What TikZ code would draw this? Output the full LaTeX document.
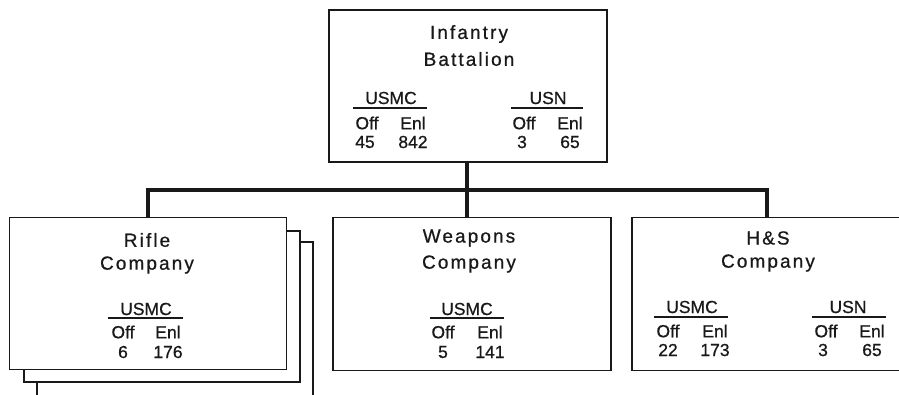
\documentclass[tikz,border=0pt]{standalone}
\usepackage{fontspec}
\setmainfont[FakeBold=0.7]{Liberation Sans}
\newfontfamily\titlefont[LetterSpace=11,FakeBold=0.7]{Liberation Sans}
\begin{document}
\begin{tikzpicture}[x=1pt,y=-1pt,
  box/.style={draw=black!90, line width=1.6pt, fill=white, rectangle, inner sep=0pt, outer sep=0pt},
  bar/.style={line width=4pt, black!90},
  ttl/.style={font=\titlefont\fontsize{19}{19}\selectfont, inner sep=0pt, text=black!90},
  lbl/.style={font=\fontsize{17.5}{17.5}\selectfont, inner sep=0pt, text=black!90},
  rule/.style={line width=1.2pt, black!90}]
\useasboundingbox (0,0) rectangle (899,394);
% boxes
\node[box, minimum width=276pt, minimum height=160pt] (rifle3) at (175,322) {};
\node[box, minimum width=276pt, minimum height=151pt] (rifle2) at (162,306.5) {};
\node[box, minimum width=277pt, minimum height=152pt] (rifle) at (148,293.5) {};
\node[box, minimum width=278pt, minimum height=152pt] (top) at (468,86) {};
\node[box, minimum width=278pt, minimum height=153pt] (weap) at (472,294) {};
\node[box, minimum width=269pt, minimum height=153pt] (hs) at (766.5,294) {};
% connectors
\coordinate (j) at (467,190);
\draw[bar] (top.south -| j) -- (j);
\draw[bar] (rifle.north) -- (rifle.north |- j) -- (hs.north |- j) -- (hs.north);
\draw[bar] (j) -- (j |- weap.north);
% top box text
\node[ttl] (t1) at (469,34) {Infantry};
\node[ttl] (t2) at (469,59) {Battalion};
\node[lbl] (tusmc) at (391,98) {USMC};
\draw[rule] (353,108) -- (427,108);
\node[lbl] (toff) at (367,123) {Off};
\node[lbl] (tenl) at (413,123) {Enl};
\node[lbl] (tn1) at (365,142) {45};
\node[lbl] (tn2) at (413,142) {842};
\node[lbl] (tusn) at (548,98) {USN};
\draw[rule] (511,108) -- (583,108);
\node[lbl] (toff2) at (524,123) {Off};
\node[lbl] (tenl2) at (570,123) {Enl};
\node[lbl] (tn3) at (522,142) {3};
\node[lbl] (tn4) at (570,142) {65};
% rifle
\node[ttl] (r1) at (147,240) {Rifle};
\node[ttl] (r2) at (147,265) {Company};
\node[lbl] (rusmc) at (146,309) {USMC};
\draw[rule] (108,318) -- (183,318);
\node[lbl] (roff) at (123,332) {Off};
\node[lbl] (renl) at (168,332) {Enl};
\node[lbl] (rn1) at (123,352) {6};
\node[lbl] (rn2) at (168,352) {176};
% weapons
\node[ttl] (w1) at (469,238) {Weapons};
\node[ttl] (w2) at (469,264) {Company};
\node[lbl] (wusmc) at (467,309) {USMC};
\draw[rule] (430,318) -- (504,318);
\node[lbl] (woff) at (443,332) {Off};
\node[lbl] (wenl) at (490,332) {Enl};
\node[lbl] (wn1) at (443,352) {5};
\node[lbl] (wn2) at (490,352) {141};
% H&S
\node[ttl] (h1) at (768,238) {H\&S};
\node[ttl] (h2) at (768,263) {Company};
\node[lbl] (husmc) at (692,307) {USMC};
\draw[rule] (654,317) -- (728,317);
\node[lbl] (hoff) at (668,331) {Off};
\node[lbl] (henl) at (715,331) {Enl};
\node[lbl] (hn1) at (668,350) {22};
\node[lbl] (hn2) at (715,350) {173};
\node[lbl] (husn) at (848,307) {USN};
\draw[rule] (812,317) -- (886,317);
\node[lbl] (hoff2) at (826,331) {Off};
\node[lbl] (henl2) at (872,331) {Enl};
\node[lbl] (hn3) at (823,350) {3};
\node[lbl] (hn4) at (872,350) {65};
\end{tikzpicture}
\end{document}
